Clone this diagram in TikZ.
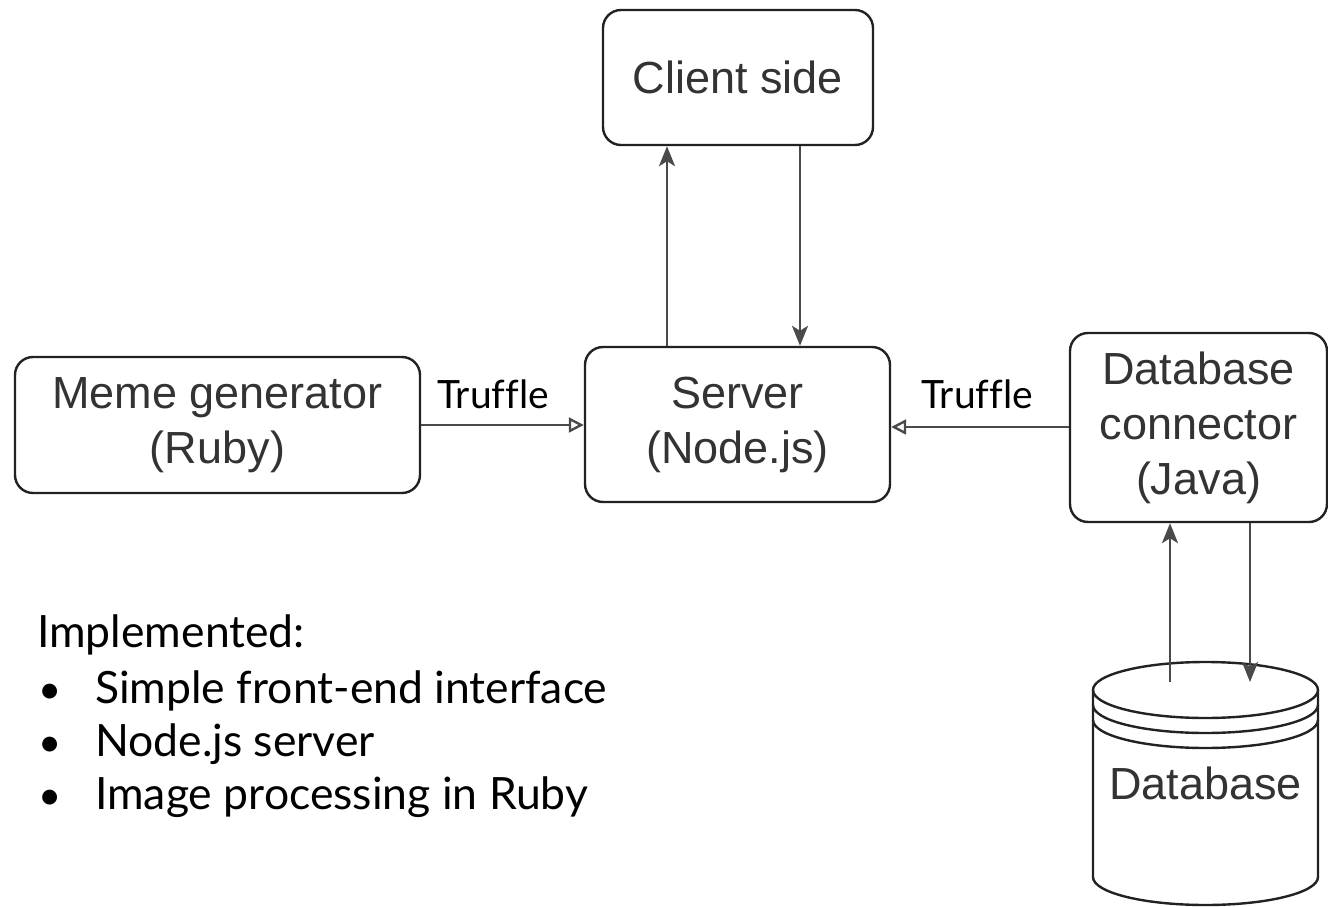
\documentclass[tikz,border=0pt]{standalone}
\usepackage{fontspec}
\setmainfont{Liberation Sans}
\newfontfamily\labelfont[Ligatures=NoCommon]{Lato}
\usetikzlibrary{arrows.meta}
\definecolor{boxline}{HTML}{222222}
\definecolor{conline}{HTML}{4A4A4A}
\definecolor{boxtext}{HTML}{333333}
\tikzset{
  boxnode/.style={draw=boxline, line width=2.4pt, rounded corners=18pt, fill=white,
    align=center, text=boxtext, inner sep=0pt,
    font=\fontsize{45}{55}\selectfont},
  conn/.style={draw=conline, line width=2.6pt},
  fillarrow/.style={conn, -{Stealth[length=20pt,width=16pt,inset=5pt]}},
  openarrow/.style={conn, -{Triangle[open,length=15pt,width=15pt,line width=2.4pt]}},
  lbl/.style={font=\labelfont\fontsize{39}{47}\selectfont, inner sep=0pt, anchor=base},
  listtext/.style={font=\labelfont\fontsize{44.5}{53}\selectfont, inner sep=0pt, anchor=base west},
}
\begin{document}
\begin{tikzpicture}[x=1pt,y=-1pt]
\useasboundingbox (0,0) rectangle (1328,907);
% boxes
\node[boxnode, minimum width=270pt, minimum height=135pt] (client) at (738,77.5) {Client side};
\node[boxnode, minimum width=305pt, minimum height=155pt] (server) at (737.5,424.5) {Server\\(Node.js)};
\node[boxnode, minimum width=405pt, minimum height=136pt] (meme) at (217.5,425) {Meme generator\\(Ruby)};
\node[boxnode, minimum width=257pt, minimum height=189pt] (dbc) at (1198.5,427.5) {Database\\connector\\(Java)};
% database cylinder
\node[inner sep=0pt, minimum width=225pt, minimum height=243pt] (db) at (1205.5,783.5) {};
\draw[boxline, line width=2.4pt, fill=white]
  (1093,690) -- (1093,877) arc[start angle=180, end angle=360, x radius=112.5pt, y radius=28pt] -- (1318,690)
  arc[start angle=0, end angle=180, x radius=112.5pt, y radius=28pt] -- cycle;
\draw[boxline, line width=2.4pt]
  (1093,690) arc[start angle=180, end angle=360, x radius=112.5pt, y radius=28pt];
\draw[boxline, line width=2.4pt]
  (1093,705) arc[start angle=180, end angle=360, x radius=112.5pt, y radius=28pt];
\draw[boxline, line width=2.4pt]
  (1093,720) arc[start angle=180, end angle=360, x radius=112.5pt, y radius=28pt];
\node[text=boxtext, font=\fontsize{45}{55}\selectfont, inner sep=0pt] (dbtext) at (1205.5,783) {Database};
% connector anchors
\coordinate (xa) at (667,0);
\coordinate (xb) at (800,0);
\coordinate (xc) at (1170,0);
\coordinate (xd) at (1250,0);
\coordinate (dbtop) at (0,682);
% connectors
\draw[fillarrow] (server.north -| xa) -- (client.south -| xa);
\draw[fillarrow] (client.south -| xb) -- (server.north -| xb);
\draw[openarrow] (meme.east) -- (server.west |- meme.east);
\draw[openarrow] (dbc.west |- 0,427) -- (server.east |- 0,427);
\draw[fillarrow] (dbtop -| xc) -- (dbc.south -| xc);
\draw[fillarrow] (dbc.south -| xd) -- (dbtop -| xd);
% labels
\node[lbl] (t1) at (493,408) {Truffle};
\node[lbl] (t2) at (977,408) {Truffle};
% list
\node[listtext] (impl) at (37,647) {Implemented:};
\node[listtext, font=\labelfont\fontsize{40}{53}\selectfont] (b1) at (38,703) {•};
\node[listtext] (l1) at (95,703) {Simple front-end interface};
\node[listtext, font=\labelfont\fontsize{40}{53}\selectfont] (b2) at (38,756) {•};
\node[listtext] (l2) at (95,756) {Node.js server};
\node[listtext, font=\labelfont\fontsize{40}{53}\selectfont] (b3) at (38,809) {•};
\node[listtext] (l3) at (95,809) {Image processing in Ruby};
\end{tikzpicture}
\end{document}
